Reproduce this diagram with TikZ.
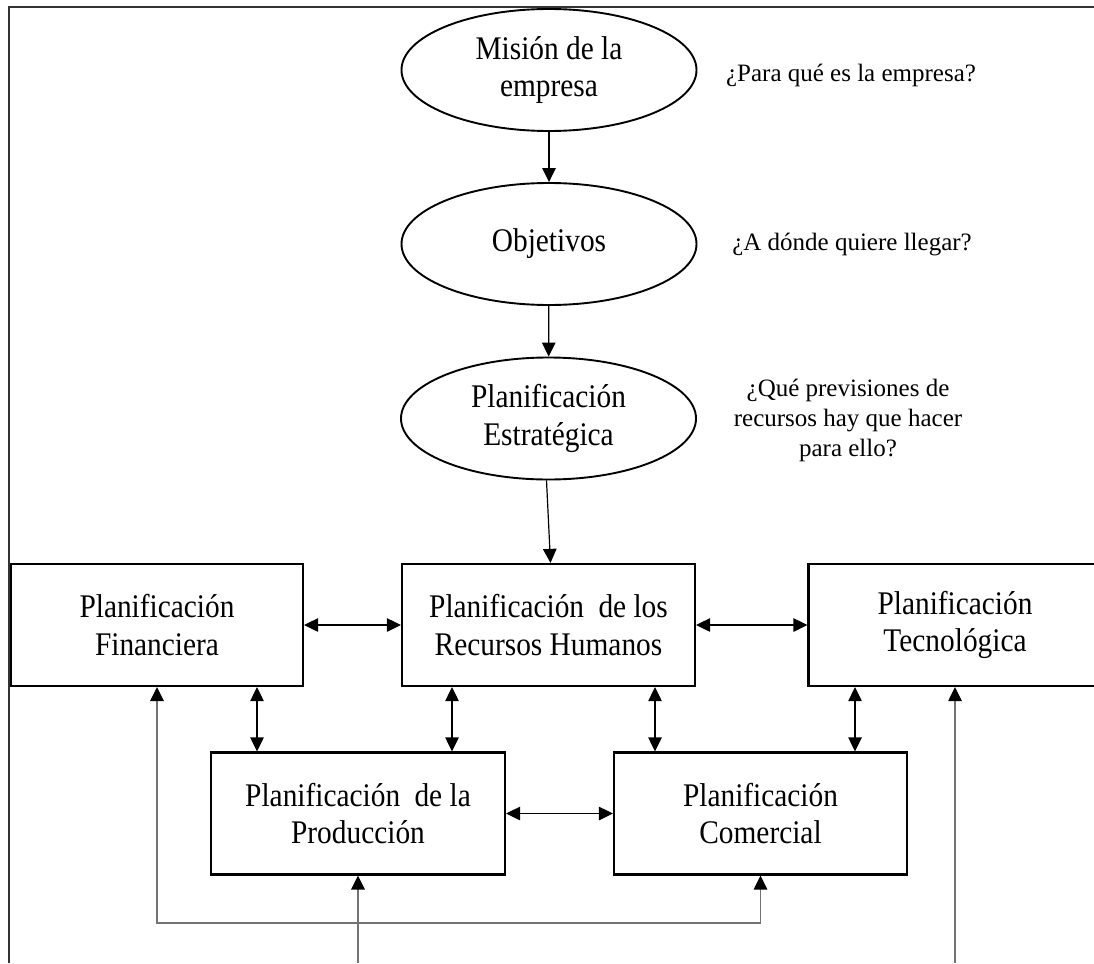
\documentclass[tikz,border=0pt]{standalone}
\usepackage{fontspec}
\setmainfont{Liberation Serif}
\newfontfamily\boxfont{Liberation Serif}[FakeStretch=0.89]
\usetikzlibrary{arrows.meta,shapes.geometric}

\tikzset{
  Head/.tip={Triangle[length=14pt,width=13.5pt]},
  HeadK/.tip={Triangle[length=14pt,width=13.5pt,black]},
  lbl/.style={font=\boxfont\fontsize{33}{37.7}\selectfont, align=center},
  oval/.style={lbl, ellipse, draw, line width=1.9pt, minimum width=295pt, minimum height=122pt, inner sep=0pt},
  plan/.style={lbl, rectangle, draw, line width=2.2pt, minimum width=293pt, minimum height=122pt, inner sep=0pt},
  ask/.style={font=\fontsize{25}{30}\selectfont, align=center},
  flow/.style={line width=1.2pt, -Head},
  both/.style={line width=1.2pt, Head-Head},
  fb/.style={line width=1.4pt, draw=black!55},
}

\begin{document}
\begin{tikzpicture}[x=1pt,y=-1pt]
  \useasboundingbox (0,0) rectangle (1094,963);
  \clip (0,0) rectangle (1094,963);

  % outer frame: top and left edges only
  \draw[line width=2pt, black!80] (9,963) -- (9,7) -- (1094,7);

  % top chain of ovals
  \node[oval] (mision) at (549,70) {Misión de la\\empresa};
  \node[oval] (obj) at (549,244) {Objetivos};
  \node[oval] (estr) at (548.5,418.5) {Planificación\\Estratégica};

  % guiding questions
  \node[ask, anchor=base] (q1) at (851,82) {¿Para qué es la empresa?};
  \node[ask, anchor=base] (q2) at (852,250) {¿A dónde quiere llegar?};
  \node[ask] (q3) at (848,420) {¿Qué previsiones de\\recursos hay que hacer\\para ello?};

  % planning areas
  \node[plan, minimum width=292pt] (fin) at (157,625) {Planificación\\Financiera};
  \node[plan] (rh) at (548.5,625) {Planificación\hspace{7pt} de los\\Recursos Humanos};
  \node[plan] (tec) at (955,625) {Planificación\\Tecnológica};
  \node[plan, minimum width=294pt] (prod) at (358,813.5) {Planificación\hspace{7pt} de la\\Producción};
  \node[plan] (com) at (760.5,813.5) {Planificación\\Comercial};

  % main flow
  \draw[flow] (mision) -- (obj);
  \draw[flow] (obj) -- (estr);
  \draw[flow] ([xshift=-2pt]estr.south) -- ([xshift=2pt]rh.north);

  % links between areas
  \draw[both] (fin.east) -- (rh.west);
  \draw[both] (rh.east) -- (tec.west);
  \draw[both] (prod.east) -- (com.west);
  \draw[both] ([xshift=100pt]fin.south) -- ([xshift=-101pt]prod.north);
  \draw[both] ([xshift=-96.5pt]rh.south) -- ([xshift=94pt]prod.north);
  \draw[both] ([xshift=106.5pt]rh.south) -- ([xshift=-105.5pt]com.north);
  \draw[both] ([xshift=-100pt]tec.south) -- ([xshift=94.5pt]com.north);

  % feedback lines along the bottom
  \coordinate (rail) at (0,923);
  \coordinate (edge) at (0,963);
  \draw[fb, HeadK-HeadK] (fin.south) -- (fin.south |- rail) -- (com.south |- rail) -- (com.south);
  \draw[fb, -HeadK] (prod.south |- edge) -- (prod.south);
  \draw[fb, -HeadK] (tec.south |- edge) -- (tec.south);
\end{tikzpicture}
\end{document}
